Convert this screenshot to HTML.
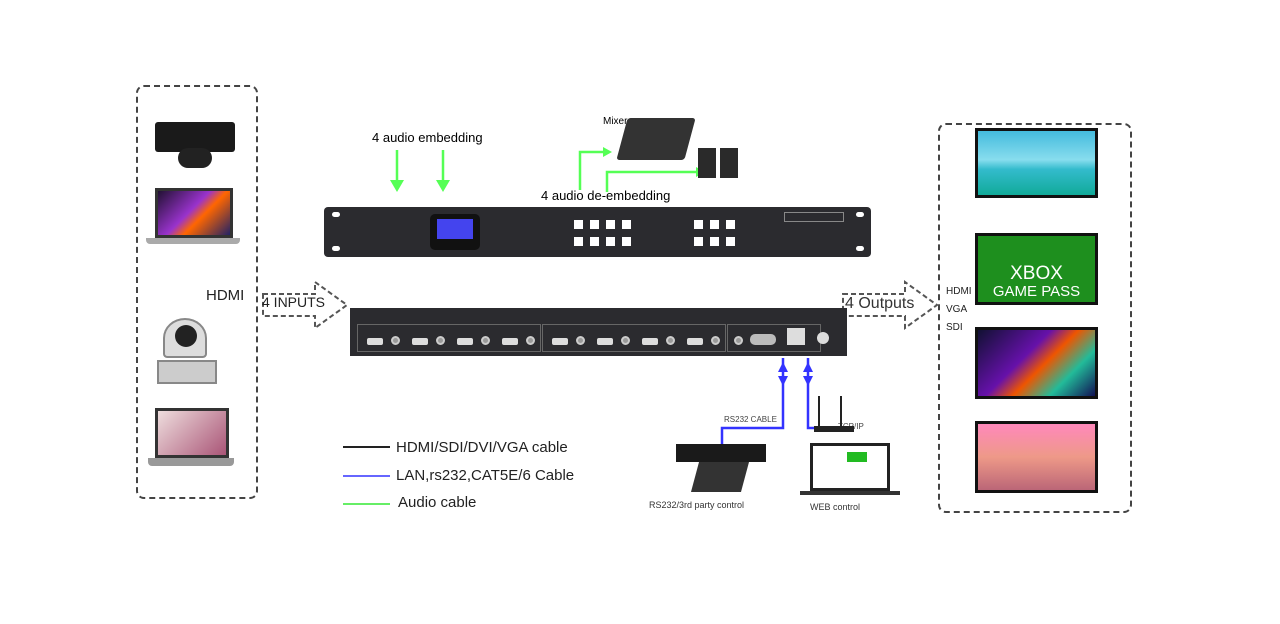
<!DOCTYPE html>
<html><head><meta charset="utf-8"><style>
*{margin:0;padding:0;box-sizing:border-box}
body{width:1280px;height:624px;background:#fff;position:relative;overflow:hidden;font-family:"Liberation Sans",sans-serif}
.a{position:absolute}
.dash{border:2px dashed #444;border-radius:8px}
.tv{position:absolute;left:975px;width:123px;border:3px solid #111}
.btn{position:absolute;width:9px;height:9px;background:#fff}
.port{position:absolute;top:30px;width:16px;height:7px;background:#ddd;border-radius:2px}
.jack{position:absolute;top:28px;width:9px;height:9px;border-radius:50%;background:#999;border:2px solid #ccc}
</style></head><body>
<div class="a dash" style="left:136px;top:85px;width:122px;height:414px"></div>
<div class="a dash" style="left:938px;top:123px;width:194px;height:390px"></div>

<div class="a" style="left:155px;top:122px;width:80px;height:30px;background:#1a1a1a;border-radius:3px"></div>
<div class="a" style="left:178px;top:148px;width:34px;height:20px;background:#222;border-radius:10px"></div>
<div class="a" style="left:155px;top:188px;width:78px;height:50px;background:linear-gradient(135deg,#213 0%,#93c 45%,#f60 60%,#226 100%);border:3px solid #333"></div>
<div class="a" style="left:146px;top:238px;width:94px;height:6px;background:#aaa;border-radius:0 0 4px 4px"></div>
<div class="a" style="left:163px;top:318px;width:44px;height:40px;background:#ddd;border-radius:50% 50% 10% 10%;border:2px solid #888"></div>
<div class="a" style="left:175px;top:325px;width:22px;height:22px;background:#222;border-radius:50%"></div>
<div class="a" style="left:157px;top:360px;width:60px;height:24px;background:#ccc;border:2px solid #888"></div>
<div class="a" style="left:155px;top:408px;width:74px;height:50px;background:linear-gradient(135deg,#edd,#c9a,#a57);border:3px solid #333"></div>
<div class="a" style="left:148px;top:458px;width:86px;height:8px;background:#999;border-radius:0 0 4px 4px"></div>

<div class="a" style="left:206px;top:287px;font-size:15px;color:#222">HDMI</div>
<svg class="a" style="left:0;top:0" width="1280" height="624">
<g fill="none" stroke="#555" stroke-width="2" stroke-dasharray="5,3">
<path d="M263 294 H315 V282 L347 305 L315 328 V316 H263 Z"/>
<path d="M843 294 H905 V282 L937 305 L905 328 V316 H843 Z"/>
</g>
<g stroke="#5f5" stroke-width="2.5" fill="none">
<path d="M397 150 V185"/><path d="M443 150 V185"/>
<path d="M580 190 V152 H605"/><path d="M607 192 V172 H698"/>
</g>
<g fill="#5f5"><path d="M390 180 L404 180 L397 192Z"/><path d="M436 180 L450 180 L443 192Z"/>
<path d="M603 147 L612 152 L603 157Z"/><path d="M696 167 L705 172 L696 177Z"/></g>
<g stroke="#33f" stroke-width="2.5" fill="none">
<path d="M783 358 V428 H722 V455"/><path d="M808 358 V428 H822"/>
</g>
<g fill="#33f"><path d="M778 372 L788 372 L783 362Z"/><path d="M778 376 L788 376 L783 386Z"/>
<path d="M803 372 L813 372 L808 362Z"/><path d="M803 376 L813 376 L808 386Z"/></g>
<line x1="343" y1="447" x2="390" y2="447" stroke="#222" stroke-width="2"/>
<line x1="343" y1="476" x2="390" y2="476" stroke="#66f" stroke-width="2"/>
<line x1="343" y1="504" x2="390" y2="504" stroke="#6e6" stroke-width="2"/>
</svg>
<div class="a" style="left:262px;top:294px;font-size:14px;color:#222">4 INPUTS</div>
<div class="a" style="left:845px;top:295px;font-size:16px;color:#333">4 Outputs</div>
<div class="a" style="left:946px;top:283px;font-size:10px;line-height:18px;color:#222">HDMI<br>VGA<br>SDI</div>

<div class="a" style="left:372px;top:130px;font-size:13px">4 audio embedding</div>
<div class="a" style="left:541px;top:188px;font-size:13px">4 audio de-embedding</div>
<div class="a" style="left:603px;top:116px;font-size:10px">Mixer</div>
<div class="a" style="left:622px;top:118px;width:68px;height:42px;background:#333;transform:skewX(-15deg);border-radius:3px"></div>
<div class="a" style="left:698px;top:148px;width:18px;height:30px;background:#2a2a2a"></div>
<div class="a" style="left:720px;top:148px;width:18px;height:30px;background:#2a2a2a"></div>

<div class="a" style="left:324px;top:207px;width:547px;height:50px;background:#2b2b2f;border-radius:4px">
<div class="a" style="left:106px;top:7px;width:50px;height:36px;background:#111;border-radius:5px"><div class="a" style="left:7px;top:5px;width:36px;height:20px;background:#44e"></div></div>
<div class="btn" style="left:250px;top:13px"></div><div class="btn" style="left:266px;top:13px"></div><div class="btn" style="left:282px;top:13px"></div><div class="btn" style="left:298px;top:13px"></div>
<div class="btn" style="left:250px;top:30px"></div><div class="btn" style="left:266px;top:30px"></div><div class="btn" style="left:282px;top:30px"></div><div class="btn" style="left:298px;top:30px"></div>
<div class="btn" style="left:370px;top:13px"></div><div class="btn" style="left:386px;top:13px"></div><div class="btn" style="left:402px;top:13px"></div>
<div class="btn" style="left:370px;top:30px"></div><div class="btn" style="left:386px;top:30px"></div><div class="btn" style="left:402px;top:30px"></div>
<div class="a" style="left:460px;top:5px;width:60px;height:10px;border:1px solid #888"></div>
<div class="a" style="left:8px;top:5px;width:8px;height:5px;background:#fff;border-radius:3px"></div>
<div class="a" style="left:532px;top:5px;width:8px;height:5px;background:#fff;border-radius:3px"></div>
<div class="a" style="left:8px;top:39px;width:8px;height:5px;background:#fff;border-radius:3px"></div>
<div class="a" style="left:532px;top:39px;width:8px;height:5px;background:#fff;border-radius:3px"></div>
</div>

<div class="a" style="left:350px;top:308px;width:497px;height:48px;background:#2b2b2f">
<div class="a" style="left:7px;top:16px;width:184px;height:28px;border:1px solid #666"></div>
<div class="a" style="left:192px;top:16px;width:184px;height:28px;border:1px solid #666"></div>
<div class="a" style="left:377px;top:16px;width:94px;height:28px;border:1px solid #666"></div>
<div class="port" style="left:17px"></div><div class="jack" style="left:41px"></div>
<div class="port" style="left:62px"></div><div class="jack" style="left:86px"></div>
<div class="port" style="left:107px"></div><div class="jack" style="left:131px"></div>
<div class="port" style="left:152px"></div><div class="jack" style="left:176px"></div>
<div class="port" style="left:202px"></div><div class="jack" style="left:226px"></div>
<div class="port" style="left:247px"></div><div class="jack" style="left:271px"></div>
<div class="port" style="left:292px"></div><div class="jack" style="left:316px"></div>
<div class="port" style="left:337px"></div><div class="jack" style="left:361px"></div>
<div class="jack" style="left:384px"></div>
<div class="a" style="left:400px;top:26px;width:26px;height:11px;background:#bbb;border-radius:5px"></div>
<div class="a" style="left:437px;top:20px;width:18px;height:17px;background:#ddd"></div>
<div class="a" style="left:467px;top:24px;width:12px;height:12px;background:#ddd;border-radius:50%"></div>
</div>

<div class="a" style="left:724px;top:415px;font-size:8px;color:#444">RS232 CABLE</div>
<div class="a" style="left:838px;top:422px;font-size:8px;color:#444">TCP/IP</div>
<div class="a" style="left:676px;top:444px;width:90px;height:18px;background:#1a1a1a"></div>
<div class="a" style="left:695px;top:462px;width:50px;height:30px;background:#333;transform:skewX(-15deg)"></div>
<div class="a" style="left:818px;top:396px;width:24px;height:32px;border-left:2px solid #222;border-right:2px solid #222"></div>
<div class="a" style="left:814px;top:426px;width:40px;height:6px;background:#222"></div>
<div class="a" style="left:810px;top:443px;width:80px;height:48px;border:3px solid #222;background:#fff"><div class="a" style="left:34px;top:6px;width:20px;height:10px;background:#2b2"></div></div>
<div class="a" style="left:800px;top:491px;width:100px;height:4px;background:#333"></div>
<div class="a" style="left:649px;top:500px;font-size:9px;color:#333">RS232/3rd party control</div>
<div class="a" style="left:810px;top:502px;font-size:9px;color:#333">WEB control</div>

<div class="a" style="left:396px;top:439px;font-size:15px;color:#222">HDMI/SDI/DVI/VGA cable</div>
<div class="a" style="left:396px;top:467px;font-size:15px;color:#222">LAN,rs232,CAT5E/6 Cable</div>
<div class="a" style="left:398px;top:494px;font-size:15px;color:#222">Audio cable</div>

<div class="tv" style="top:128px;height:70px;background:linear-gradient(#4bd 0%,#8de 45%,#3bc 60%,#1a9 100%)"></div>
<div class="tv" style="top:233px;height:72px;background:#1e8f1e;color:#fff;text-align:center;font-size:19px;line-height:17px;padding-top:29px">XBOX<br><span style="font-size:15px">GAME PASS</span></div>
<div class="tv" style="top:327px;height:72px;background:linear-gradient(135deg,#113 0%,#61a 40%,#e50 55%,#2b9 75%,#115 100%)"></div>
<div class="tv" style="top:421px;height:72px;background:linear-gradient(#f8b 0%,#e98 50%,#b67 100%)"></div>
</body></html>
